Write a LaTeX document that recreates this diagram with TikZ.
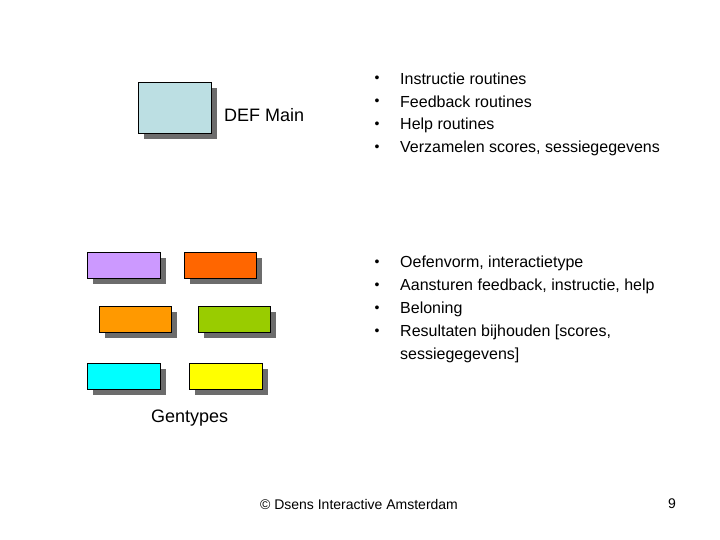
\documentclass[tikz,border=0pt]{standalone}
\usepackage{fontspec}
\setmainfont{Liberation Sans}
\begin{document}
\begin{tikzpicture}[x=1pt,y=-1pt,
  bx/.style={draw=black,line width=0.8pt},
  sh/.style={fill=gray!85!black,draw=none},
  txt/.style={anchor=west,inner sep=0pt,font=\fontsize{16}{19}\selectfont},
  bul/.style={anchor=center,inner sep=0pt,font=\fontsize{14}{16}\selectfont}]
\useasboundingbox (0,0) rectangle (720,540);
\newcommand{\gbox}[6]{%
  \fill[sh] (#2+6,#3+6) rectangle (#4+6,#5+6);
  \node[bx,fill=#6,minimum width=#4-#2,minimum height=#5-#3,inner sep=0pt,anchor=north west] (#1) at (#2,#3) {};}
\definecolor{lb}{HTML}{BCDFE3}
\definecolor{pu}{HTML}{CC99FF}
\definecolor{orr}{HTML}{FF6600}
\definecolor{orl}{HTML}{FF9900}
\definecolor{gr}{HTML}{99CC00}
\definecolor{cy}{HTML}{00FFFF}
\definecolor{ye}{HTML}{FFFF00}
\gbox{def}{138}{82}{211}{133}{lb}
\gbox{b1}{87}{252}{160}{278}{pu}
\gbox{b2}{184}{252}{256}{278}{orr}
\gbox{b3}{99}{306}{171}{332}{orl}
\gbox{b4}{198}{306}{270}{332}{gr}
\gbox{b5}{87}{363}{160}{389}{cy}
\gbox{b6}{189}{363}{262}{389}{ye}
\node[txt,font=\fontsize{18}{21}\selectfont] (dm) at (224,115) {DEF Main};
\node[txt,font=\fontsize{18}{21}\selectfont] (gt) at (151,418) {Gentypes};
\foreach \y/\t [count=\i] in {79/Instructie routines,102/Feedback routines,125/Help routines,148/{Verzamelen scores, sessiegegevens}}{
  \node[bul] (ba\i) at (377,\y) {•};
  \node[txt] (ta\i) at (400,\y) {\t};}
\foreach \y/\t [count=\i] in {263/{Oefenvorm, interactietype},286/{Aansturen feedback, instructie, help},309/Beloning,332/{Resultaten bijhouden [scores,}}{
  \node[bul] (bb\i) at (377,\y) {•};
  \node[txt] (tb\i) at (400,\y) {\t};}
\node[txt] (tb5) at (400,355) {sessiegegevens]};
\node[inner sep=0pt,font=\fontsize{14}{16}\selectfont] (ft) at (359,504) {© Dsens Interactive Amsterdam};
\node[inner sep=0pt,font=\fontsize{14}{16}\selectfont] (pg) at (672,504) {9};
\end{tikzpicture}
\end{document}
